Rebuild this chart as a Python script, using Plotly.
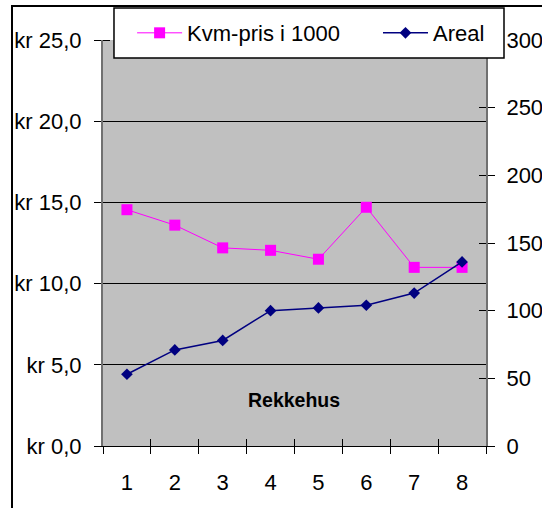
import plotly.graph_objects as go

# Row-house series: price per m² (thousand kr) and floor area (m²)
categories = ["1", "2", "3", "4", "5", "6", "7", "8"]
kvm_pris = [14.55, 13.6, 12.2, 12.05, 11.5, 14.7, 11.0, 11.0]
areal = [53, 71, 78, 100, 102, 104, 113, 136]

series_names = ["Kvm-pris i 1000", "Areal"]
chart_label = "Rekkehus"

FONT = "Arial"
PINK = "#FF00FF"
NAVY = "#000080"
PLOT_BG = "#C0C0C0"

fig = go.Figure()

fig.add_trace(go.Scatter(
    x=categories, y=kvm_pris, name=series_names[0],
    mode="lines+markers",
    line=dict(color=PINK, width=1),
    marker=dict(symbol="square", size=11, color=PINK),
    xaxis="x", yaxis="y", legend="legend",
))
# area series sits on the overlaid x2/y2 pair; x2 carries the inner half of the category ticks
fig.add_trace(go.Scatter(
    x=categories, y=areal, name=series_names[1],
    mode="lines+markers",
    line=dict(color=NAVY, width=1.5),
    marker=dict(symbol="diamond", size=9, color=NAVY),
    xaxis="x2", yaxis="y2", legend="legend2",
))

n = len(categories)
EPS = 1e-4  # nudges the inner tick half off the major tick so both halves are kept
left_ticks = [v + EPS for v in range(0, 26, 5)]
right_ticks = [v + EPS for v in range(0, 301, 50)]

tick_common = dict(ticklen=7, tickwidth=1, tickcolor="black")


def inner_ticks(vals):
    return dict(ticks="inside", tickmode="array", tickvals=vals,
                ticklen=7, tickwidth=1, tickcolor="black", showgrid=False)


fig.update_layout(
    width=542, height=508,
    margin=dict(l=103, r=56, t=40, b=62),
    paper_bgcolor="white",
    plot_bgcolor=PLOT_BG,
    separators=", ",
    font=dict(family=FONT, size=22, color="black"),
    showlegend=True,
    xaxis=dict(
        type="category", categoryarray=categories, range=[-0.5, n - 0.5],
        tickson="boundaries", ticks="outside", **tick_common,
        showgrid=False, zeroline=False,
        showline=True, linecolor="black", linewidth=1,
        ticklabelstandoff=17, automargin=False,
    ),
    xaxis2=dict(
        type="category", categoryarray=categories, range=[-0.5, n - 0.5],
        overlaying="x", anchor="y", side="bottom",
        tickson="boundaries", ticks="inside", **tick_common,
        showticklabels=False,
        showgrid=False, zeroline=False, showline=False,
    ),
    yaxis=dict(
        range=[0, 25], dtick=5, tick0=0,
        tickprefix="kr ", tickformat=".1f",
        ticks="outside", **tick_common,
        minor=inner_ticks(left_ticks),
        showgrid=True, gridcolor="black", gridwidth=1,
        zeroline=False,
        showline=True, linecolor="#707070", linewidth=2,
        ticklabelstandoff=8, automargin=False,
    ),
    yaxis2=dict(
        overlaying="y", side="right", anchor="x2",
        range=[0, 300], dtick=50, tick0=0,
        ticks="outside", **tick_common,
        minor=inner_ticks(right_ticks),
        showgrid=False, zeroline=False,
        showline=True, linecolor="#707070", linewidth=2,
        ticklabelstandoff=7, automargin=False,
    ),
    legend=dict(
        x=0.076, y=1.0172, xanchor="left", yanchor="middle",
        bgcolor="rgba(0,0,0,0)", borderwidth=0,
        itemwidth=45, font=dict(size=22),
    ),
    legend2=dict(
        x=0.718, y=1.0172, xanchor="left", yanchor="middle",
        bgcolor="rgba(0,0,0,0)", borderwidth=0,
        itemwidth=45, font=dict(size=22),
    ),
    shapes=[
        # outer chart frame
        dict(type="rect", xref="paper", yref="paper",
             x0=-0.2376, x1=1.4, y0=-0.4, y1=1.0837,
             line=dict(color="black", width=2), fillcolor="rgba(0,0,0,0)",
             layer="above"),
        # legend box
        dict(type="rect", xref="paper", yref="paper",
             x0=0.0287, x1=1.047, y0=0.9557, y1=1.0788,
             line=dict(color="black", width=1.5), fillcolor="white",
             layer="above"),
    ],
    annotations=[
        dict(text="<b>" + chart_label + "</b>", xref="paper", yref="paper",
             x=0.498, y=0.114, xanchor="center", yanchor="middle",
             showarrow=False, font=dict(size=19.5, color="black")),
    ],
)

fig.write_html("out.html")
